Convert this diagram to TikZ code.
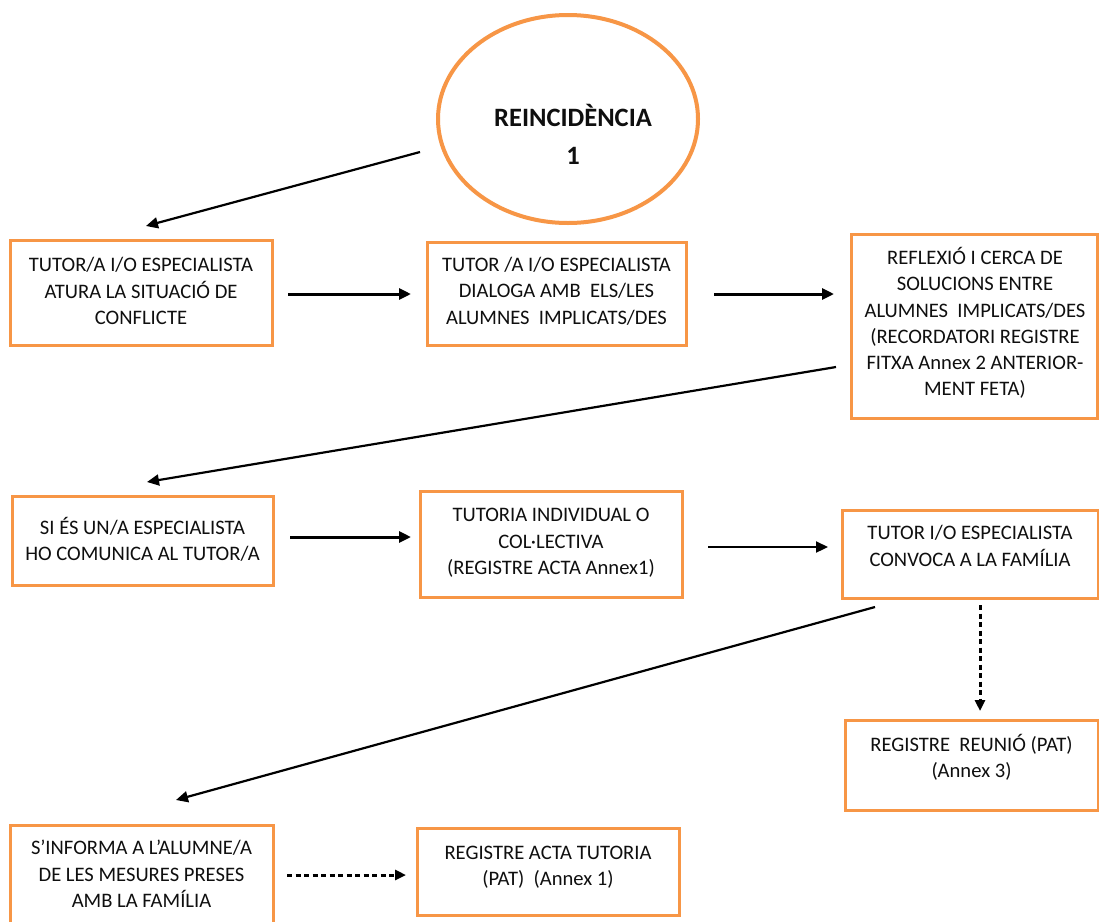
\documentclass[tikz,border=0pt]{standalone}
\usepackage{fontspec}
\setmainfont{Carlito}
\usetikzlibrary{arrows.meta}
\definecolor{orng}{RGB}{247,150,70}
\definecolor{txtc}{RGB}{15,15,15}
\tikzset{
  box/.style={draw=orng, line width=3pt, rectangle, inner sep=0pt},
  txt/.style={align=center, inner sep=0pt, text=txtc, font=\fontsize{20.6}{26.3}\selectfont},
  arr/.style={line width=3pt, -{Triangle[length=12pt,width=11pt]}},
  darr/.style={line width=2.2pt, -{Triangle[length=12pt,width=11pt]}},
  dsh/.style={line width=3pt, dash pattern=on 5pt off 3.5pt, -{Triangle[length=11pt,width=10pt]}},
}
\begin{document}
\begin{tikzpicture}[x=1pt,y=-1pt]
\useasboundingbox (0,0) rectangle (1099,921);
\fill[white] (0,0) rectangle (1099,921);
% ellipse
\draw[orng, line width=4pt] (568,119) ellipse [x radius=130, y radius=104];
\node[txt, font=\fontsize{26.5}{38}\selectfont\bfseries] (el) at (573,134) {REINCIDÈNCIA\\1};
% boxes
\node[box, minimum width=262pt, minimum height=105pt] (a) at (141,292.5) {};
\node[txt] (at) at (141,291) {TUTOR/A I/O ESPECIALISTA\\ATURA LA SITUACIÓ DE\\CONFLICTE};
\node[box, minimum width=259pt, minimum height=103pt] (b) at (556.5,293.5) {};
\node[txt] (bt) at (556.5,291) {TUTOR /A I/O ESPECIALISTA\\DIALOGA AMB~~ELS/LES\\ALUMNES~~IMPLICATS/DES};
\node[box, minimum width=246pt, minimum height=184pt] (c) at (974,326) {};
\node[txt] (ct) at (975,323) {REFLEXIÓ I CERCA DE\\SOLUCIONS ENTRE\\ALUMNES~~IMPLICATS/DES\\(RECORDATORI REGISTRE\\FITXA Annex 2 ANTERIOR-\\MENT FETA)};
\node[box, minimum width=261pt, minimum height=89pt] (d) at (142.5,540.5) {};
\node[txt] (dt) at (142.5,539) {SI ÉS UN/A ESPECIALISTA\\HO COMUNICA AL TUTOR/A};
\node[box, minimum width=262pt, minimum height=106pt] (e) at (551,544) {};
\node[txt] (et) at (551,543) {TUTORIA INDIVIDUAL O\\COL·LECTIVA\\(REGISTRE ACTA Annex1)};
\node[box, minimum width=256pt, minimum height=88pt] (f) at (970,554) {};
\node[txt] (ft) at (970,546) {TUTOR I/O ESPECIALISTA\\CONVOCA A LA FAMÍLIA};
\node[box, minimum width=253pt, minimum height=90pt] (g) at (971.5,765) {};
\node[txt] (gt) at (971.5,757) {REGISTRE~~REUNIÓ (PAT)\\(Annex 3)};
\node[box, minimum width=263pt, minimum height=110pt] (h) at (141.5,880) {};
\node[txt] (ht) at (141.5,874) {S’INFORMA A L’ALUMNE/A\\DE LES MESURES PRESES\\AMB LA FAMÍLIA};
\node[box, minimum width=262pt, minimum height=87pt] (i) at (548,871.5) {};
\node[txt] (it) at (548,867) {REGISTRE ACTA TUTORIA\\(PAT)~~(Annex 1)};
% connector end points
\coordinate (e1s) at (420,152); \coordinate (e1e) at (146,226);
\coordinate (ab1) at (288,294); \coordinate (ab2) at (411,294);
\coordinate (bc1) at (714,294); \coordinate (bc2) at (834,294);
\coordinate (cd1) at (836,367); \coordinate (cd2) at (147,482);
\coordinate (de1) at (290,537); \coordinate (de2) at (411,537);
\coordinate (ef1) at (708,547); \coordinate (ef2) at (828,547);
\coordinate (fh1) at (875,607); \coordinate (fh2) at (176,800);
\coordinate (fg1) at (980,605); \coordinate (fg2) at (980,711);
\coordinate (hi1) at (287,875); \coordinate (hi2) at (406,875);
% connectors
\draw[darr] (e1s) -- (e1e);
\draw[arr] (ab1) -- (ab2);
\draw[arr] (bc1) -- (bc2);
\draw[darr] (cd1) -- (cd2);
\draw[arr] (de1) -- (de2);
\draw[darr] (ef1) -- (ef2);
\draw[darr] (fh1) -- (fh2);
\draw[dsh] (fg1) -- (fg2);
\draw[dsh] (hi1) -- (hi2);
\end{tikzpicture}
\end{document}
